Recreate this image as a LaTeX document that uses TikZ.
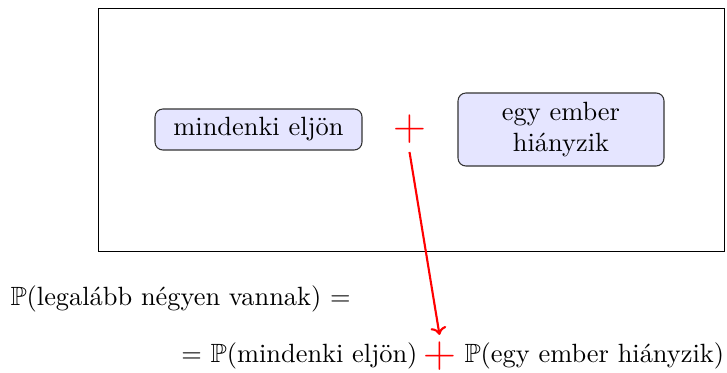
\documentclass[tikz,border=0pt]{standalone}
\usepackage{amsmath,amssymb}
\usepackage{fontspec}
\usetikzlibrary{arrows.meta}
\tikzset{
  box/.style={draw=black!80, fill=blue!10, rounded corners=3pt, align=center, inner sep=0pt},
  redplus/.style={text=red, inner sep=0pt, font=\LARGE},
  plain/.style={inner sep=0pt},
  link/.style={draw=red, thick, -{To[length=3pt,width=6pt]}}
}
\begin{document}
\begin{tikzpicture}[x=0.379pt, y=-0.379pt]
\useasboundingbox (0,0) rectangle (727,372);
\node[draw, line width=0.35pt, minimum width=626*0.379pt, minimum height=243*0.379pt, inner sep=0pt] (frame) at (411,129.5) {};
\node[box, minimum width=207*0.379pt, minimum height=41*0.379pt] (all) at (258.5,129.5) {mindenki eljön};
\node[redplus] (plus1) at (409.5,129) {$+$};
\node[box, minimum width=206*0.379pt, minimum height=73*0.379pt, text width=70pt] (miss) at (561,129.5) {egy ember\\hiányzik};
\node[plain, anchor=base west] (lhs) at (10,305) {$\mathbb{P}$(legalább négyen vannak) $=$};
\node[redplus] (plus2) at (439.5,356) {$+$};
\node[plain, anchor=base east] (rhsa) at (418,362) {$=$ $\mathbb{P}$(mindenki eljön)};
\node[plain, anchor=base west] (rhsb) at (464,362) {$\mathbb{P}$(egy ember hiányzik)};
\draw[link] ([yshift=-8.7pt]plus1.center) -- ([yshift=8pt]plus2.center);
\end{tikzpicture}
\end{document}
